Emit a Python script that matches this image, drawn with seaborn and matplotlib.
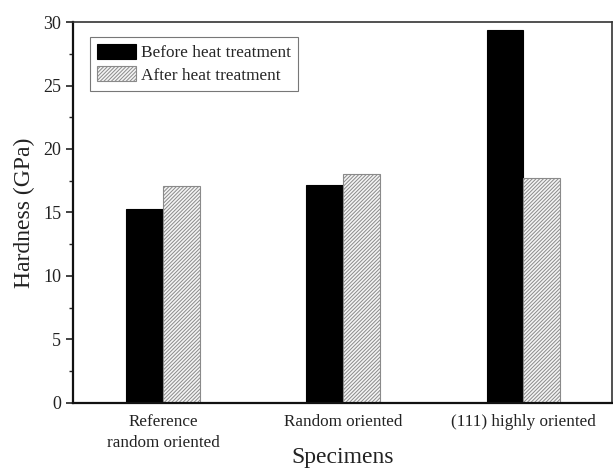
import matplotlib
matplotlib.use("Agg")
import matplotlib.pyplot as plt
import seaborn as sns
import pandas as pd
from matplotlib.ticker import MultipleLocator

categories = ["Reference\nrandom oriented", "Random oriented", "(111) highly oriented"]
series = ["Before heat treatment", "After heat treatment"]
before = [15.3, 17.2, 29.4]
after = [17.1, 18.0, 17.7]

df = pd.DataFrame({
    "Specimens": categories * 2,
    "Treatment": [series[0]] * 3 + [series[1]] * 3,
    "Hardness": before + after,
})

sns.set_style("ticks")
plt.rcParams["font.family"] = ["Liberation Serif", "DejaVu Serif"]
plt.rcParams["hatch.linewidth"] = 0.7

fig = plt.figure(figsize=(6.13, 4.69), dpi=100)
ax = fig.add_axes([0.119, 0.141, 0.879, 0.812])

sns.barplot(data=df, x="Specimens", y="Hardness", hue="Treatment",
            hue_order=series, order=categories,
            palette=["black", "white"], width=0.41, gap=0,
            errorbar=None, ax=ax, saturation=1)

n = len(categories)
for i, patch in enumerate(ax.patches[:2 * n]):
    if i < n:
        patch.set_facecolor("black")
        patch.set_edgecolor("black")
        patch.set_linewidth(0.8)
    else:
        patch.set_facecolor("#f4f4f4")
        patch.set_edgecolor("#8a8a8a")
        patch.set_hatch("/////////")
        patch.set_linewidth(0.8)

ax.set_xlim(-0.5, 2.49)
ax.set_ylim(0, 30)
ax.yaxis.set_major_locator(MultipleLocator(5))
ax.yaxis.set_minor_locator(MultipleLocator(2.5))
ax.tick_params(axis="y", which="major", direction="out", length=5, width=1.2,
               labelsize=13, colors="#222222")
ax.tick_params(axis="y", which="minor", direction="out", length=3, width=1.0)
ax.tick_params(axis="x", length=0, labelsize=12.3, pad=8)
for lab in ax.get_xticklabels():
    lab.set_color("#222222")
    lab.set_linespacing(1.4)

for side in ["left", "bottom"]:
    ax.spines[side].set_linewidth(1.6)
    ax.spines[side].set_color("#111111")
for side in ["top", "right"]:
    ax.spines[side].set_visible(True)
    ax.spines[side].set_linewidth(1.2)
    ax.spines[side].set_color("#333333")

ax.set_ylabel("Hardness (GPa)", fontsize=17, color="#222222", labelpad=6)
ax.set_xlabel("Specimens", fontsize=17, color="#222222", va="center")
ax.xaxis.set_label_coords(0.5, (12 / 469 - 0.141) / 0.812)

leg = ax.legend(handles=[ax.patches[0], ax.patches[n]], labels=series,
                loc="upper left", bbox_to_anchor=(0.0315, 0.961),
                fontsize=12.4, frameon=True, fancybox=False,
                handlelength=2.25, handleheight=0.95, handletextpad=0.3,
                borderpad=0.4, labelspacing=0.3, borderaxespad=0.0)
leg.get_frame().set_edgecolor("#555555")
leg.get_frame().set_linewidth(0.8)

fig.savefig("out.png", dpi=100)
